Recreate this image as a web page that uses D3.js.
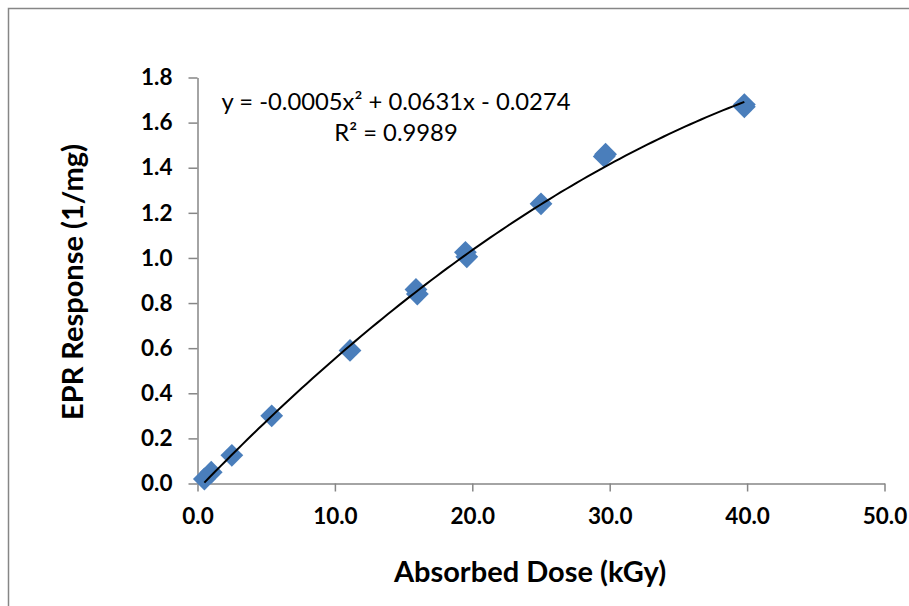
<!DOCTYPE html>
<html>
<head>
<meta charset="utf-8">
<script src="https://cdn.jsdelivr.net/npm/d3@7"></script>
<style>
  html, body { margin: 0; padding: 0; background: #fff; }
  svg { display: block; }
</style>
</head>
<body>
<svg id="chart" width="909" height="606"></svg>
<script>
// ---- data ----
const dose = [0.5, 1.0, 2.5, 5.4, 11.1, 15.9, 16.0, 19.5, 19.6, 25.0, 29.6, 29.7, 39.8, 39.8];
const response = [0.02, 0.05, 0.125, 0.30, 0.59, 0.86, 0.84, 1.025, 1.005, 1.24, 1.45, 1.46, 1.68, 1.67];
const xTicks = [0, 10, 20, 30, 40, 50];
const yTicks = [0, 0.2, 0.4, 0.6, 0.8, 1.0, 1.2, 1.4, 1.6, 1.8];
// trendline coefficients (as printed on the chart): y = a x^2 + b x + c
const trendCoef = [-0.0005, 0.0631, -0.0274];
const equationLines = ["y = -0.0005x\u00B2 + 0.0631x - 0.0274", "R\u00B2 = 0.9989"];
const xTitle = "Absorbed Dose (kGy)";
const yTitle = "EPR Response (1/mg)";

// ---- layout ----
const svg = d3.select("#chart");
const pLeft = 197.5, pRight = 884.5, pTop = 77.5, pBottom = 483.5;
const x = d3.scaleLinear().domain([0, 50]).range([pLeft, pRight]);
const y = d3.scaleLinear().domain([0, 1.8]).range([pBottom, pTop]);
const axisColor = "#868686";
const font = "Lato, 'Open Sans', sans-serif";

svg.append("rect").attr("x", 0).attr("y", 0).attr("width", 909).attr("height", 606).attr("fill", "#fff");
// outer chart frame
svg.append("rect").attr("x", 8.5).attr("y", 8.5).attr("width", 1000).attr("height", 1000)
  .attr("fill", "none").attr("stroke", axisColor).attr("stroke-width", 1.5);

// axes
const yAxis = d3.axisLeft(y).tickValues(yTicks).tickFormat(d3.format(".1f")).tickSizeInner(9).tickSizeOuter(0).tickPadding(16);
const xAxis = d3.axisBottom(x).tickValues(xTicks).tickFormat(d3.format(".1f")).tickSizeInner(8).tickSizeOuter(0).tickPadding(17);

const gy = svg.append("g").attr("transform", `translate(${pLeft},0)`).call(yAxis);
const gx = svg.append("g").attr("transform", `translate(0,${pBottom})`).call(xAxis);
[gx, gy].forEach(g => {
  g.select(".domain").attr("stroke", axisColor).attr("stroke-width", 1.5);
  g.selectAll(".tick line").attr("stroke", axisColor).attr("stroke-width", 1.5);
  g.selectAll(".tick text").attr("fill", "#000").attr("font-family", font)
    .attr("font-weight", "bold").attr("font-size", 22.5);
});

// trendline
const xmin = d3.min(dose), xmax = d3.max(dose);
const trendX = d3.range(0, 101).map(i => xmin + (xmax - xmin) * i / 100);
const poly = v => trendCoef[0] * v * v + trendCoef[1] * v + trendCoef[2];
const line = d3.line().x(d => x(d)).y(d => y(poly(d))).curve(d3.curveLinear);

// markers
const pts = dose.map((d, i) => ({ x: d, y: response[i] }));
const sym = d3.symbol().type(d3.symbolSquare).size(260);
svg.append("g").selectAll("path").data(pts).join("path")
  .attr("d", sym)
  .attr("transform", d => `translate(${x(d.x)},${y(d.y)}) rotate(45)`)
  .attr("fill", "#4a7ebb");

svg.append("path").datum(trendX).attr("d", line)
  .attr("fill", "none").attr("stroke", "#000").attr("stroke-width", 2);

// equation
svg.append("text").attr("x", 396).attr("y", 110).attr("text-anchor", "middle")
  .attr("font-family", font).attr("font-size", 23.8).attr("fill", "#000").text(equationLines[0]);
svg.append("text").attr("x", 396).attr("y", 141).attr("text-anchor", "middle")
  .attr("font-family", font).attr("font-size", 23.8).attr("fill", "#000").text(equationLines[1]);

// axis titles
svg.append("text").attr("x", 530).attr("y", 582).attr("text-anchor", "middle")
  .attr("font-family", font).attr("font-weight", "bold").attr("font-size", 29).attr("fill", "#000").text(xTitle);
svg.append("text").attr("transform", `translate(83,282) rotate(-90)`).attr("text-anchor", "middle")
  .attr("font-family", font).attr("font-weight", "bold").attr("font-size", 29).attr("fill", "#000").text(yTitle);
</script>
</body>
</html>
